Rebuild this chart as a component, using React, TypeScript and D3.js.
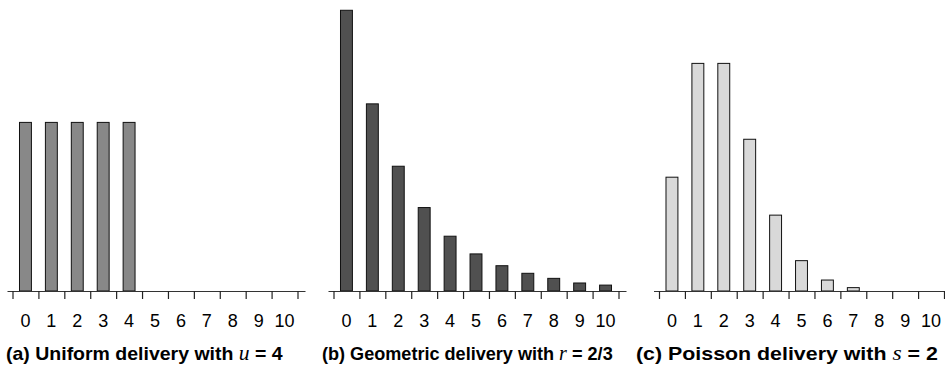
import React, { useEffect, useRef } from 'react';
import * as d3 from 'd3';

// ------------ data ------------//
const categories = ['0', '1', '2', '3', '4', '5', '6', '7', '8', '9', '10'];
const uniformValues = [0.2, 0.2, 0.2, 0.2, 0.2, 0, 0, 0, 0, 0, 0];
const geometricValues = [0.333, 0.222, 0.148, 0.099, 0.065, 0.044, 0.03, 0.021, 0.015, 0.0095, 0.007];
const poissonValues = [0.135, 0.27, 0.27, 0.18, 0.09, 0.036, 0.013, 0.004, 0, 0, 0];

const captions = [
  { pre: '(a) Uniform delivery with ', sym: 'u', post: ' = 4' },
  { pre: '(b) Geometric delivery with ', sym: 'r', post: ' = 2/3' },
  { pre: '(c) Poisson delivery with ', sym: 's', post: ' = 2' },
];

export default function App() {
  const ref = useRef<SVGSVGElement>(null);
  const width = 945;
  const height = 387;
  const baseY = 291;
  const panelW = 285;

  useEffect(() => {
    const svg = d3.select(ref.current);
    svg.selectAll('*').remove();

    const panels = [
      { x0: 12.5, values: uniformValues, fill: '#888888', cap: captions[0], capX: 6, capW: 277 },
      { x0: 333.5, values: geometricValues, fill: '#505050', cap: captions[1], capX: 322, capW: 291 },
      { x0: 659, values: poissonValues, fill: '#d9d9d9', cap: captions[2], capX: 636, capW: 302 },
    ];

    // shared y scale (same px per unit in all three panels)
    const yScale = d3.scaleLinear().domain([0, 0.34]).range([baseY, baseY - 0.34 * 843]);

    panels.forEach((p) => {
      const g = svg.append('g').attr('transform', `translate(${p.x0},0)`);

      const xBand = d3.scaleBand().domain(categories).range([0, panelW]);
      const xTicks = d3.scaleLinear().domain([0, categories.length]).range([0, panelW]);
      const bw = xBand.bandwidth() * 0.46;

      // bars
      g.append('g')
        .selectAll('rect')
        .data(p.values.map((v, i) => ({ v, c: categories[i] })).filter((d) => d.v > 0))
        .join('rect')
        .attr('x', (d) => (xBand(d.c) as number) + (xBand.bandwidth() - bw) / 2)
        .attr('y', (d) => yScale(d.v))
        .attr('width', bw)
        .attr('height', (d) => baseY - yScale(d.v))
        .attr('fill', p.fill)
        .attr('stroke', '#111')
        .attr('stroke-width', 1);

      // axis line
      g.append('line')
        .attr('x1', -5)
        .attr('x2', panelW + 8)
        .attr('y1', baseY + 0.5)
        .attr('y2', baseY + 0.5)
        .attr('stroke', '#333')
        .attr('stroke-width', 1.2);

      // ticks at band edges
      const tickAxis = d3.axisBottom(xTicks)
        .tickValues(d3.range(categories.length + 1))
        .tickSize(8)
        .tickSizeOuter(0)
        .tickFormat(() => '');
      const ta = g.append('g').attr('transform', `translate(0,${baseY})`).call(tickAxis);
      ta.select('.domain').remove();
      ta.selectAll('.tick line').attr('stroke', '#222').attr('stroke-width', 1.2);

      // labels at band centres
      const labelAxis = d3.axisBottom(xBand).tickSize(0);
      const la = g.append('g').attr('transform', `translate(0,${baseY})`).call(labelAxis);
      la.select('.domain').remove();
      la.selectAll('.tick text')
        .attr('y', 36)
        .attr('dy', 0)
        .attr('fill', '#000')
        .attr('font-family', 'Liberation Sans, Arial, sans-serif')
        .attr('font-size', 18);

      // caption: bold text squeezed horizontally to look condensed
      const t = svg.append('text')
        .attr('fill', '#000')
        .attr('font-family', 'Liberation Sans, Arial, sans-serif')
        .attr('font-weight', 'bold')
        .attr('font-size', 18);
      t.append('tspan').text(p.cap.pre);
      t.append('tspan')
        .text(p.cap.sym)
        .attr('font-family', 'Liberation Serif, Times New Roman, serif')
        .attr('font-style', 'italic')
        .attr('font-weight', 'normal')
        .attr('font-size', 20);
      t.append('tspan').text(p.cap.post);
      const w = (t.node() as SVGTextElement).getBBox().width || p.capW;
      t.attr('transform', `translate(${p.capX},360) scale(${p.capW / w},1)`);
    });
  }, []);

  return (
    <div style={{ position: 'absolute', left: 0, top: 0 }}>
      <svg ref={ref} width={width} height={height} style={{ display: 'block', background: '#fff' }} />
    </div>
  );
}
